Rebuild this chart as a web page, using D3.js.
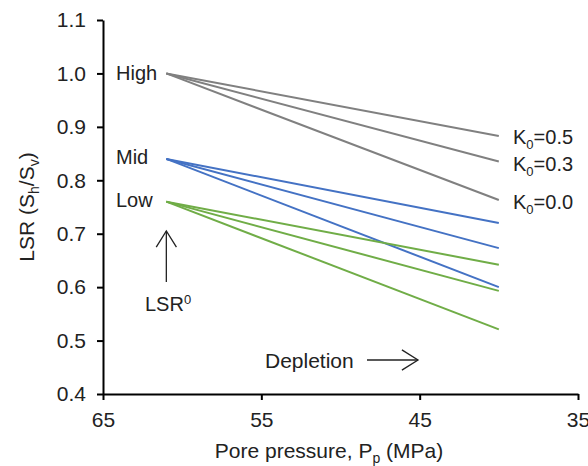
<!DOCTYPE html>
<html><head><meta charset="utf-8">
<script src="https://cdn.jsdelivr.net/npm/d3@7"></script>
<style>body{margin:0;background:#fff}svg{display:block;font-family:"Liberation Sans",Arial,sans-serif}</style>
</head><body>
<svg id="c" width="588" height="466"></svg>
<script>
const pressures = [61, 40];
const groups = ["High", "Mid", "Low"];
const startLSR = [1.0, 0.84, 0.76];
const k0Labels = ["K0=0.5", "K0=0.3", "K0=0.0"];
const endHigh = [0.883, 0.835, 0.763];
const endMid = [0.72, 0.673, 0.60];
const endLow = [0.642, 0.593, 0.521];
const groupColors = ["#808080", "#4472c4", "#70ad47"];
const yTicks = [0.4, 0.5, 0.6, 0.7, 0.8, 0.9, 1.0, 1.1];
const xTicks = [65, 55, 45, 35];

const FS = 21, SUB = 14, TXT = "#222";
const svg = d3.select("#c");
const x = d3.scaleLinear().domain([65, 35]).range([103, 578]);
const y = d3.scaleLinear().domain([0.4, 1.1]).range([394, 20]);

const ends = [endHigh, endMid, endLow];
const line = d3.line().x(d => x(d[0])).y(d => y(d[1]));
const labelDy = [0, -1.5, -2];
groups.forEach((g, gi) => {
  ends[gi].forEach(e => {
    svg.append("path")
      .attr("d", line([[pressures[0], startLSR[gi]], [pressures[1], e]]))
      .attr("fill", "none").attr("stroke", groupColors[gi]).attr("stroke-width", 2);
  });
  svg.append("text").attr("x", 116).attr("y", y(startLSR[gi]) + labelDy[gi])
    .attr("dy", "0.35em").attr("font-size", FS - 1).attr("fill", TXT).text(g);
});

// K0 labels
const k0Y = [y(endHigh[0]) + 1, y(endHigh[1]) + 2, y(endHigh[2]) + 2];
k0Labels.forEach((k, i) => {
  const t = svg.append("text").attr("x", 513).attr("y", k0Y[i]).attr("dy", "0.35em")
    .attr("font-size", FS - 1).attr("fill", TXT);
  t.append("tspan").text("K");
  t.append("tspan").attr("font-size", SUB - 1).attr("dy", 5).text("0");
  t.append("tspan").attr("dy", -5).text(k.slice(2));
});

// axes
const yAxis = svg.append("g").attr("transform", "translate(103,0)")
  .call(d3.axisLeft(y).tickValues(yTicks).tickFormat(d3.format(".1f")).tickSize(6).tickSizeOuter(0));
const xAxis = svg.append("g").attr("transform", "translate(0,394)")
  .call(d3.axisBottom(x).tickValues(xTicks).tickSize(6).tickSizeOuter(0));
[yAxis, xAxis].forEach(a => {
  a.select(".domain").attr("stroke", "#000").attr("stroke-width", 2);
  a.selectAll(".tick line").attr("stroke", "#000").attr("stroke-width", 2);
  a.selectAll(".tick text").attr("font-size", FS).attr("fill", TXT)
    .attr("font-family", "Liberation Sans, Arial, sans-serif");
});
yAxis.selectAll(".tick text").attr("x", -17);
xAxis.selectAll(".tick text").attr("y", 26).attr("dy", "0.35em");

// axis titles
const yt = svg.append("text").attr("transform", "translate(27,207) rotate(-90)")
  .attr("text-anchor", "middle").attr("dy", "0.35em").attr("font-size", FS).attr("fill", TXT);
yt.append("tspan").text("LSR (S");
yt.append("tspan").attr("font-size", SUB).attr("dy", 5).text("h");
yt.append("tspan").attr("dy", -5).text("/S");
yt.append("tspan").attr("font-size", SUB).attr("dy", 5).text("v");
yt.append("tspan").attr("dy", -5).text(")");

const xt = svg.append("text").attr("x", 329).attr("y", 451).attr("dy", "0.35em")
  .attr("text-anchor", "middle").attr("font-size", FS).attr("fill", TXT);
xt.append("tspan").text("Pore pressure, P");
xt.append("tspan").attr("font-size", SUB).attr("dy", 5).text("p");
xt.append("tspan").attr("dy", -5).text(" (MPa)");

// annotations
function arrow(x1, y1, x2, y2) {
  svg.append("line").attr("x1", x1).attr("y1", y1).attr("x2", x2).attr("y2", y2)
    .attr("stroke", TXT).attr("stroke-width", 1.3);
  const ang = Math.atan2(y2 - y1, x2 - x1), L = 19, s = 0.56;
  const p = a => [x2 - L * Math.cos(ang + a), y2 - L * Math.sin(ang + a)];
  const a1 = p(s), a2 = p(-s);
  svg.append("path").attr("d", `M${a1[0]},${a1[1]}L${x2},${y2}L${a2[0]},${a2[1]}`)
    .attr("fill", "none").attr("stroke", TXT).attr("stroke-width", 1.3);
}
arrow(x(pressures[0]), 282, x(pressures[0]), 231);
const lsr = svg.append("text").attr("x", 145).attr("y", 304).attr("dy", "0.35em")
  .attr("font-size", FS - 1).attr("fill", TXT);
lsr.append("tspan").text("LSR");
lsr.append("tspan").attr("font-size", SUB - 1).attr("dy", -7).text("0");

svg.append("text").attr("x", 265).attr("y", 361).attr("dy", "0.35em")
  .attr("font-size", FS).attr("fill", TXT).text("Depletion");
arrow(367, 360, 418, 360);
</script>
</body></html>
